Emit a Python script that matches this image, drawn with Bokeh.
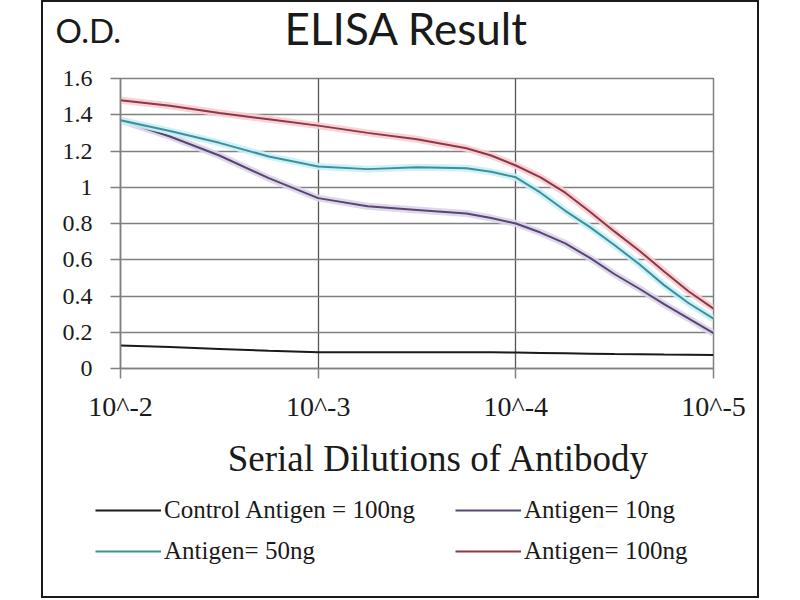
from bokeh.plotting import figure
from bokeh.embed import file_html
from bokeh.resources import INLINE
from bokeh.models import (Range1d, FixedTicker, NumeralTickFormatter, Label,
                          Legend, LegendItem, Spacer)
from bokeh.layouts import row, column

# ---- data ----
log_dilution = [-2, -2.25, -2.5, -2.75, -3, -3.25, -3.5, -3.75, -3.875, -4,
                -4.125, -4.25, -4.375, -4.5, -4.625, -4.75, -4.875, -5]
control_100ng = [0.127, 0.118, 0.108, 0.098, 0.090, 0.090, 0.089, 0.089, 0.089, 0.088,
                 0.086, 0.084, 0.082, 0.080, 0.079, 0.077, 0.076, 0.074]
antigen_10ng = [1.37, 1.28, 1.175, 1.05, 0.94, 0.895, 0.875, 0.855, 0.83, 0.80,
                0.75, 0.69, 0.61, 0.52, 0.44, 0.355, 0.275, 0.195]
antigen_50ng = [1.37, 1.31, 1.245, 1.17, 1.115, 1.10, 1.11, 1.105, 1.085, 1.055,
                0.97, 0.87, 0.78, 0.68, 0.575, 0.46, 0.36, 0.275]
antigen_100ng = [1.48, 1.45, 1.41, 1.375, 1.34, 1.30, 1.265, 1.215, 1.175, 1.12,
                 1.055, 0.97, 0.865, 0.755, 0.65, 0.535, 0.425, 0.33]

x_ticks = [-2, -3, -4, -5]
x_tick_labels = ["10^-2", "10^-3", "10^-4", "10^-5"]
y_ticks = [0, 0.2, 0.4, 0.6, 0.8, 1.0, 1.2, 1.4, 1.6]

series_names = ["Control Antigen = 100ng", "Antigen= 10ng", "Antigen= 50ng", "Antigen= 100ng"]
title_text = "ELISA Result"
y_title_text = "O.D."
x_title_text = "Serial Dilutions  of Antibody"

SERIF = "Liberation Serif"
FRAME = "2px solid #1a1a1a"
INK = "#1a1a1a"

series_styles = [
    (None, "#1a1a1a"),
    ("#dcd4ea", "#574670"),
    ("#c6f1f7", "#3f8e9c"),
    ("#f6cdd2", "#8c3848"),
]
series_values = [control_100ng, antigen_10ng, antigen_50ng, antigen_100ng]


def no_align(fig):
    try:
        fig.frame_align = False
    except Exception:
        pass


def bare(fig, styles):
    fig.grid.visible = False
    fig.outline_line_color = None
    fig.background_fill_color = "white"
    fig.border_fill_color = "white"
    fig.styles = styles
    no_align(fig)


# ---- header: title and O.D. ----
head = figure(width=718, height=60, output_backend="svg", toolbar_location=None,
              x_range=Range1d(0, 1), y_range=Range1d(0, 1),
              x_axis_location=None, y_axis_location=None, min_border=0)
bare(head, {"border-top": FRAME, "border-left": FRAME, "border-right": FRAME})
head.add_layout(Label(x=363, y=35, x_units="screen", y_units="screen", text=title_text,
                      text_font="Lato", text_font_size="44px", text_align="center",
                      text_baseline="alphabetic", text_color=INK))
head.add_layout(Label(x=12, y=33, x_units="screen", y_units="screen", text=y_title_text,
                      text_font="Lato", text_font_size="33px", text_align="left",
                      text_baseline="alphabetic", text_color=INK))

# ---- main chart ----
p = figure(width=718, height=372, output_backend="svg", toolbar_location=None,
           x_range=Range1d(-2, -5), y_range=Range1d(0, 1.6),
           min_border_left=77, min_border_right=48, min_border_top=18, min_border_bottom=64)
p.styles = {"border-left": FRAME, "border-right": FRAME}
no_align(p)
p.background_fill_color = "white"
p.border_fill_color = "white"
p.outline_line_color = "#808080"
p.outline_line_width = 1.5

p.xaxis.ticker = FixedTicker(ticks=x_ticks)
p.xaxis.major_label_overrides = {t: l for t, l in zip(x_ticks, x_tick_labels)}
p.yaxis.ticker = FixedTicker(ticks=y_ticks)
p.yaxis.formatter = NumeralTickFormatter(format="0.[0]")
for ax in (p.xaxis, p.yaxis):
    ax.axis_line_color = "#808080"
    ax.axis_line_width = 1.5
    ax.major_tick_line_color = "#808080"
    ax.major_tick_line_width = 1.5
    ax.major_tick_out = 10
    ax.major_tick_in = 0
    ax.minor_tick_line_color = None
    ax.major_label_text_font = SERIF
    ax.major_label_text_color = INK
p.xaxis.major_label_text_font_size = "28px"
p.xaxis.major_label_standoff = 12
p.yaxis.major_label_text_font_size = "24px"
p.yaxis.major_label_standoff = 18

p.ygrid.grid_line_color = "#808080"
p.ygrid.grid_line_width = 1.5
p.xgrid.grid_line_color = "#555555"
p.xgrid.grid_line_width = 1.3

for vals, (halo, core) in zip(series_values, series_styles):
    if halo is not None:
        p.line(log_dilution, vals, line_color=halo, line_width=7, line_alpha=0.9)
    p.line(log_dilution, vals, line_color=core, line_width=2)

# ---- bottom strip: x title and legend (ranges kept away from the data so only the key shows) ----
leg = figure(width=718, height=166, output_backend="svg", toolbar_location=None,
             x_range=Range1d(100, 101), y_range=Range1d(100, 101),
             x_axis_location=None, y_axis_location=None, min_border=0)
bare(leg, {"border-bottom": FRAME, "border-left": FRAME, "border-right": FRAME})
leg.add_layout(Label(x=400, y=140, x_units="screen", y_units="screen", text=x_title_text,
                     text_font=SERIF, text_font_size="37px", text_align="center",
                     text_baseline="alphabetic", text_color=INK))
items = []
for vals, (halo, core), name in zip(series_values, series_styles, series_names):
    r = leg.line(log_dilution, vals, line_color=core, line_width=2)
    items.append(LegendItem(label=name, renderers=[r]))


def make_legend(its, loc):
    return Legend(items=its, location=loc, orientation="vertical",
                  glyph_width=66, glyph_height=24, label_height=24, label_standoff=3,
                  spacing=13, padding=0, margin=0,
                  border_line_color=None, background_fill_alpha=0,
                  label_text_font=SERIF, label_text_font_size="25px",
                  label_text_color=INK)


leg.add_layout(make_legend([items[0], items[2]], (52, 33)), "center")
leg.add_layout(make_legend([items[1], items[3]], (412, 33)), "center")

layout = row(Spacer(width=41), column(head, p, leg, spacing=0))
open("out.html", "w").write(file_html(layout, INLINE))
